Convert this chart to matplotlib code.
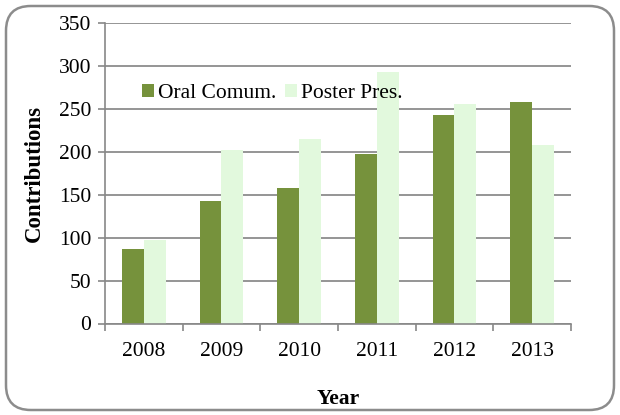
import matplotlib
matplotlib.use("Agg")
import matplotlib.pyplot as plt
import numpy as np
from matplotlib.patches import FancyBboxPatch

years = ["2008", "2009", "2010", "2011", "2012", "2013"]
oral = [87, 142, 158, 197, 243, 257]
poster = [97, 202, 215, 292, 255, 207]
series_names = ["Oral Comum.", "Poster Pres."]
yticks = [0, 50, 100, 150, 200, 250, 300, 350]

plt.rcParams['font.family'] = ['Liberation Serif', 'DejaVu Serif']

fig = plt.figure(figsize=(6.2, 4.15), dpi=100)
W, H = 620, 415
ax = fig.add_axes([105 / W, 1 - 323.5 / H, (571 - 105) / W, (323.5 - 22.5) / H])

x = np.arange(len(years))
bw = 0.28
ax.bar(x - bw / 2, oral, bw, color='#76923C', label=series_names[0], zorder=2)
ax.bar(x + bw / 2, poster, bw, color='#E2F9DD', label=series_names[1], zorder=2)

ax.set_xlim(-0.5, len(years) - 0.5)
ax.set_ylim(0, 350)
ax.set_yticks(yticks)
ax.set_yticklabels([str(v) for v in yticks], fontsize=15.5)
ax.set_xticks(x)
ax.set_xticklabels(years, fontsize=15.5)
ax.tick_params(axis='x', length=0, pad=13)
ax.set_xticks(np.arange(len(years) + 1) - 0.5, minor=True)
ax.tick_params(axis='x', which='minor', length=5, color='#888888', width=1.2)
ax.tick_params(axis='y', length=5, color='#888888', width=1.2, pad=5)

ax.yaxis.grid(True, color='#8c8c8c', linewidth=1.3, zorder=0)
ax.set_axisbelow(True)
for s in ['top', 'right']:
    ax.spines[s].set_visible(False)
for s in ['left', 'bottom']:
    ax.spines[s].set_color('#888888')
    ax.spines[s].set_linewidth(1.2)

ax.set_ylabel('Contributions', fontsize=16.5, fontweight='bold', labelpad=10)
ax.set_xlabel('Year', fontsize=15.5, fontweight='bold', labelpad=20.5)

ax.legend(loc='upper left', bbox_to_anchor=(0.06, 0.825), ncol=2, frameon=False,
          fontsize=15.5, handlelength=0.6, handleheight=0.6, handletextpad=0.15,
          columnspacing=0.4, borderaxespad=0)

border = FancyBboxPatch((6 / W, 5 / H), (W - 12) / W, (H - 11) / H,
                        boxstyle="round,pad=0,rounding_size=0.04",
                        transform=fig.transFigure, fill=False,
                        edgecolor='#8c8c8c', linewidth=1.8, mutation_aspect=W / H)
fig.patches.append(border)

fig.savefig('out.png', dpi=100)
